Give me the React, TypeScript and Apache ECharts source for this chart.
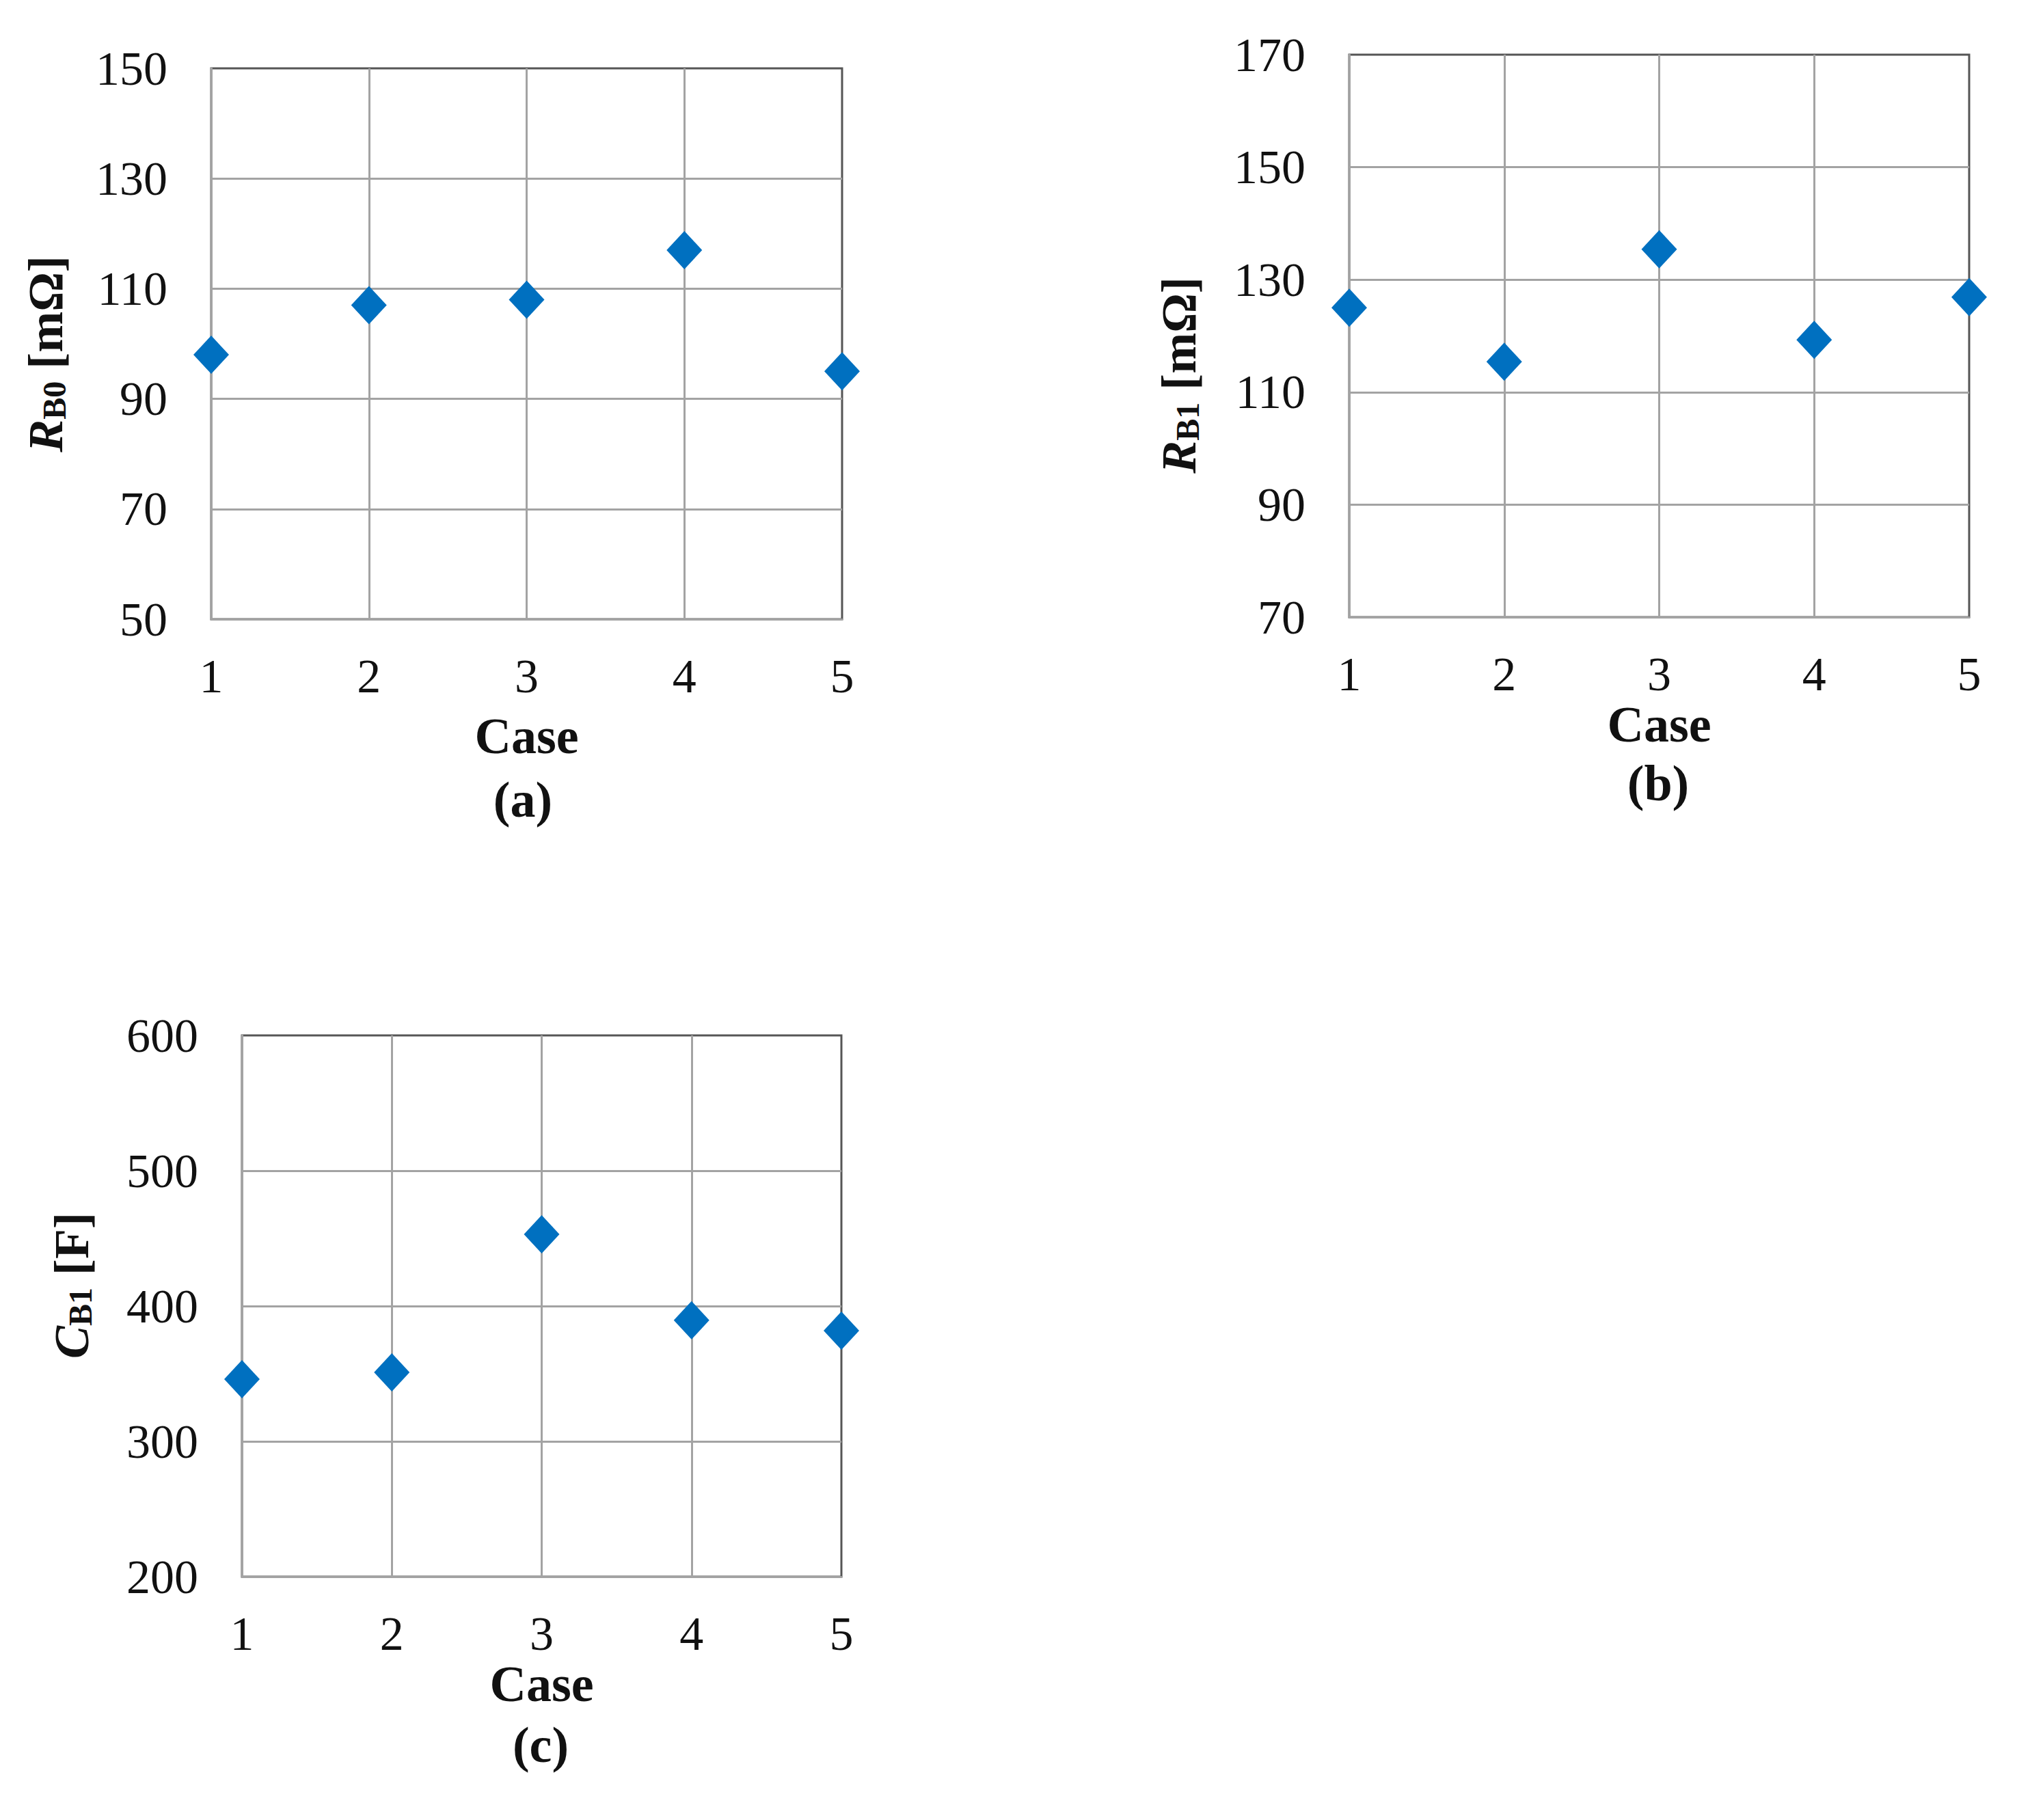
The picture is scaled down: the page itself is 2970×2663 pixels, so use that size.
import React, { useEffect, useRef } from "react";
import * as echarts from "echarts";

const cases = [1, 2, 3, 4, 5];
const rB0 = [98, 107, 108, 117, 95];
const rB1 = [125, 115.4, 135.4, 119.3, 126.9];
const cB1 = [346, 351, 453, 389.5, 381.8];

const yA = { min: 50, max: 150, interval: 20 };
const yB = { min: 70, max: 170, interval: 20 };
const yC = { min: 200, max: 600, interval: 100 };

const FONT = "'Liberation Serif', 'Times New Roman', Times, serif";
const GRID_COLOR = "#a3a3a3";
const BORDER_COLOR = "#555555";
const MARK = "#0070C0";

export default function App() {
  const ref = useRef<HTMLDivElement>(null);
  useEffect(() => {
    if (!ref.current) return;
    const chart = echarts.init(ref.current, undefined, { renderer: "svg" });
    const grids = [
      { left: 309, top: 100, width: 923, height: 806 },
      { left: 1974, top: 80, width: 907, height: 823 },
      { left: 354, top: 1515, width: 877, height: 792 },
    ];
    const xAxis = grids.map((_, i) => ({
      type: "value",
      gridIndex: i,
      min: 1,
      max: 5,
      interval: 1,
      name: "Case",
      nameLocation: "middle",
      nameGap: i === 0 ? 134 : 120,
      nameTextStyle: { fontFamily: FONT, fontWeight: "bold", fontSize: 74, color: "#111" },
      axisLine: { show: true, lineStyle: { color: GRID_COLOR, width: 3 } },
      axisTick: { show: false },
      axisLabel: { margin: 48, fontFamily: FONT, fontSize: 70, color: "#111" },
      splitLine: { show: true, showMaxLine: false, lineStyle: { color: GRID_COLOR, width: 3 } },
    }));
    const yRanges = [yA, yB, yC];
    const yAxis = yRanges.map((r, i) => ({
      type: "value",
      gridIndex: i,
      min: r.min,
      max: r.max,
      interval: r.interval,
      axisLine: { show: true, lineStyle: { color: GRID_COLOR, width: 3 } },
      axisTick: { show: false },
      axisLabel: { margin: 64, fontFamily: FONT, fontSize: 70, color: "#111" },
      splitLine: { show: true, showMaxLine: false, lineStyle: { color: GRID_COLOR, width: 3 } },
    }));
    const seriesVals = [rB0, rB1, cB1];
    const series = seriesVals.map((vals, i) => ({
      type: "scatter",
      xAxisIndex: i,
      yAxisIndex: i,
      symbol: "diamond",
      symbolSize: [52, 56],
      itemStyle: { color: MARK, opacity: 1 },
      data: cases.map((c, k) => [c, vals[k]]),
    }));
    const richBase = {
      i: { fontFamily: FONT, fontStyle: "italic", fontWeight: "bold", fontSize: 72, lineHeight: 72, fill: "#111", color: "#111" },
      s: { fontFamily: FONT, fontWeight: "bold", fontSize: 48, lineHeight: 44, verticalAlign: "bottom", fill: "#111", color: "#111" },
      n: { fontFamily: FONT, fontWeight: "bold", fontSize: 72, lineHeight: 72, fill: "#111", color: "#111" },
    };
    const yTitle = (x: number, y: number, sym: string, sub: string, unit: string) => ({
      type: "text",
      x,
      y,
      rotation: Math.PI / 2,
      style: {
        text: `{i|${sym}}{s|${sub}}{n| [${unit}]}`,
        rich: richBase,
        align: "center",
        verticalAlign: "middle",
        textAlign: "center",
        textVerticalAlign: "middle",
        fill: "#111",
      },
    });
    const panelLabel = (x: number, y: number, t: string) => ({
      type: "text",
      x,
      y,
      style: {
        text: t,
        font: `bold 74px ${FONT}`,
        fill: "#111",
        align: "center",
        verticalAlign: "middle",
        textAlign: "center",
        textVerticalAlign: "middle",
      },
    });
    chart.setOption({
      animation: false,
      backgroundColor: "#ffffff",
      grid: grids.map((g) => ({ ...g, show: true, borderColor: BORDER_COLOR, borderWidth: 3, backgroundColor: "transparent" })),
      xAxis,
      yAxis,
      series,
      graphic: [
        yTitle(67, 518, "R", "B0", "mΩ"),
        yTitle(1725, 549, "R", "B1", "mΩ"),
        yTitle(105, 1881, "C", "B1", "F"),
        panelLabel(765, 1170, "(a)"),
        panelLabel(2426, 1146, "(b)"),
        panelLabel(791, 2553, "(c)"),
      ],
    });
    return () => chart.dispose();
  }, []);
  return (
    <div style={{ position: "absolute", left: 0, top: 0, width: 2970, height: 2663, background: "#fff" }}>
      <div ref={ref} style={{ width: 2970, height: 2663 }} />
    </div>
  );
}
